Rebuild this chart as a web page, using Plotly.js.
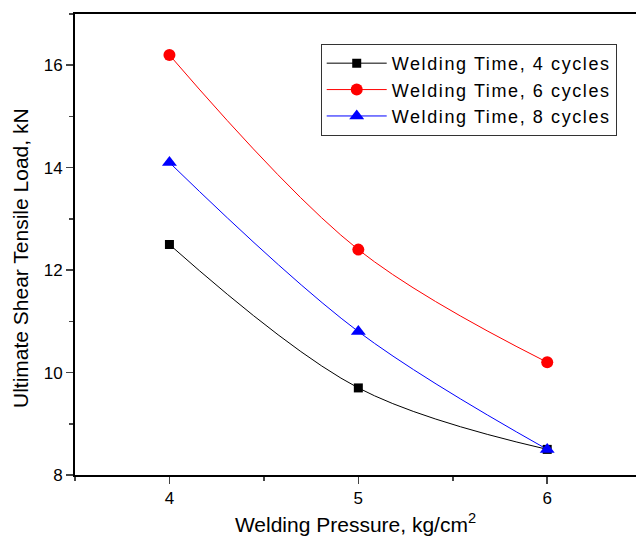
<!DOCTYPE html>
<html><head><meta charset="utf-8">
<script src="https://cdn.plot.ly/plotly-3.0.1.min.js"></script>
<style>html,body{margin:0;padding:0;overflow:hidden;background:#fff}
.legendtext{letter-spacing:1.6px}</style>
</head><body><div id="chart" style="width:636px;height:539px"></div>
<script>
const pressure = [4, 5, 6];
const time4 = [12.5, 9.7, 8.5];
const time6 = [16.2, 12.4, 10.2];
const time8 = [14.1, 10.8, 8.5];
const names = ["Welding Time, 4 cycles", "Welding Time, 6 cycles", "Welding Time, 8 cycles"];
const xTitle = 'Welding Pressure, kg/cm<sup>2</sup>';
const yTitle = 'Ultimate Shear Tensile Load, kN';

const font = "Arial, 'Liberation Sans', sans-serif";
function tr(y, name, color, symbol, size) {
  return {x: pressure, y: y, name: name, type: 'scatter', mode: 'lines+markers',
    line: {color: color, width: 1, shape: 'spline', smoothing: 1},
    marker: {color: color, symbol: symbol, size: size}};
}
const data = [
  tr(time4, names[0], '#000000', 'square', 9),
  tr(time6, names[1], '#ff0000', 'circle', 12),
  tr(time8, names[2], '#0000ff', 'triangle-up', 13)
];
const layout = {
  width: 636, height: 539,
  margin: {l: 75, r: 0, t: 14, b: 64},
  paper_bgcolor: '#fff', plot_bgcolor: '#fff',
  font: {family: font, color: '#000'},
  showlegend: true,
  legend: {x: 0.438, y: 0.935, xanchor: 'left', yanchor: 'top', bordercolor: '#333', borderwidth: 1,
    bgcolor: '#fff', font: {size: 18, family: font}, tracegroupgap: 0, itemwidth: 60},
  xaxis: {range: [3.5, 6.47], tickvals: [4, 5, 6], ticks: 'outside', ticklen: 7, tickwidth: 1.5,
    showline: true, linewidth: 2, linecolor: '#000', mirror: true, showgrid: false, zeroline: false,
    tickfont: {size: 17}, minor: {dtick: 0.5, tick0: 3.5, ticks: 'outside', ticklen: 4, tickwidth: 1.5},
    title: {text: xTitle, font: {size: 21}, standoff: 10}},
  yaxis: {range: [8, 17], tickvals: [8, 10, 12, 14, 16], ticks: 'outside', ticklen: 7, tickwidth: 1.5,
    showline: true, linewidth: 2, linecolor: '#000', mirror: false, showgrid: false, zeroline: false,
    tickfont: {size: 17}, minor: {dtick: 1, tick0: 8, ticks: 'outside', ticklen: 4, tickwidth: 1.5}},
  annotations: [{text: yTitle, textangle: -90, xref: 'paper', yref: 'paper', x: -0.098, y: 0.4707,
    xanchor: 'center', yanchor: 'middle', showarrow: false, font: {size: 21, family: font}}]
};
Plotly.newPlot('chart', data, layout, {displayModeBar: false, staticPlot: true});
</script></body></html>
